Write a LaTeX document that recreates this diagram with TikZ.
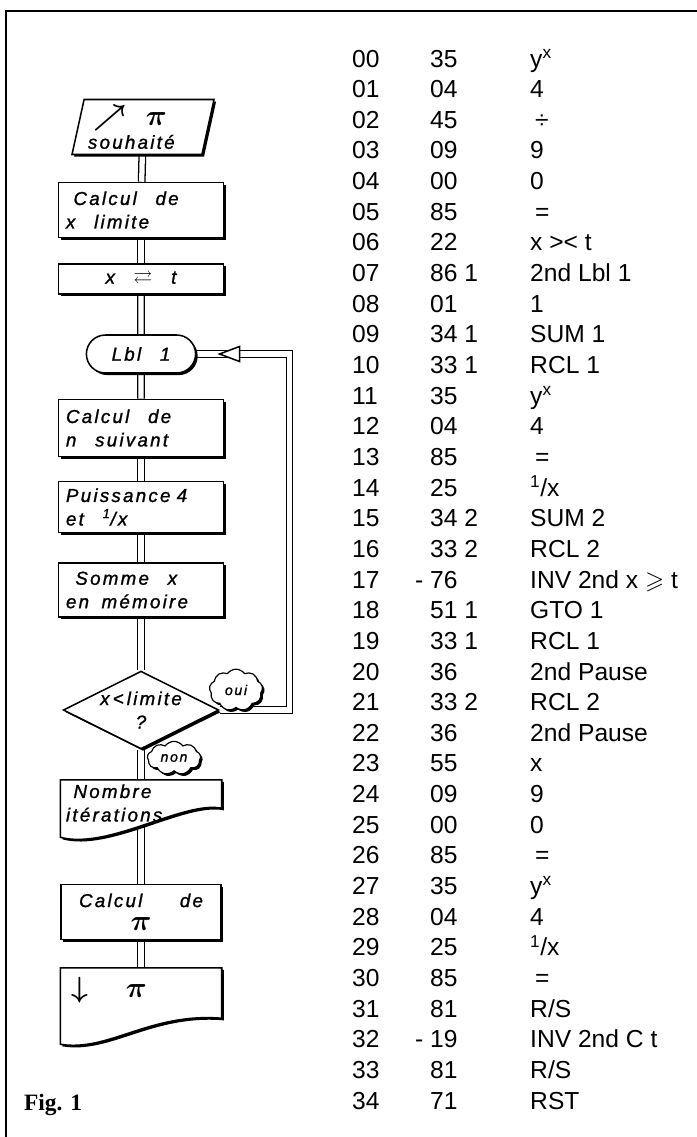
\documentclass[tikz,border=0pt]{standalone}
\usepackage{amsmath}
\usepackage{amssymb}
\usepackage{fontspec}
\setmainfont{Liberation Sans}
\newfontfamily\handfont[LetterSpace=12, FakeBold=1.2]{Liberation Sans}
\newfontfamily\figfont{Liberation Serif}
\usetikzlibrary{shapes.geometric, shapes.misc, shapes.symbols, shadows, backgrounds, calc}
\newcommand{\flowfont}{\handfont\itshape\fontsize{16}{20}\selectfont}
\newcommand{\smallflowfont}{\handfont\itshape\fontsize{12}{14}\selectfont}
\newcommand{\listfont}{\fontsize{21}{25}\selectfont}
\newcommand{\bigsym}[1]{{\fontsize{24}{24}\selectfont$\boldsymbol{#1}$}}
\tikzstyle{shadowed} = [drop shadow={shadow xshift=1.8pt, shadow yshift=-1.8pt, fill=black, opacity=1}]
\tikzstyle{proc} = [rectangle, draw, line width=1.3pt, fill=white, shadowed, minimum width=4.95cm, minimum height=1.65cm, text width=4.5cm, align=left, font=\flowfont]
\tikzstyle{wishbox} = [trapezium, trapezium left angle=76, trapezium right angle=104, trapezium stretches=true, draw, line width=1.3pt, fill=white, shadowed, minimum width=4.26cm, minimum height=1.65cm, text width=3.3cm, align=left, inner sep=1pt, font=\flowfont]
\tikzstyle{lblbox} = [rounded rectangle, draw, line width=1.3pt, fill=white, shadowed, minimum width=3.51cm, minimum height=1.14cm, font=\flowfont]
\tikzstyle{testbox} = [diamond, shape aspect=2, draw, line width=1.3pt, fill=white, shadowed, minimum width=4.65cm, minimum height=2.25cm, inner sep=0pt, align=center, font=\flowfont]
\tikzstyle{docbox} = [rectangle, minimum width=4.83cm, minimum height=1.38cm, text width=4.5cm, align=left, font=\flowfont]
\tikzstyle{docline} = [draw, line width=1.3pt, fill=white, shadowed]
\tikzstyle{bubble} = [cloud, cloud puffs=9, cloud puff arc=110, aspect=1.4, draw, line width=1pt, fill=white, shadowed, minimum width=1.6cm, minimum height=1.25cm, inner sep=0pt, font=\smallflowfont]
\tikzstyle{tri} = [isosceles triangle, isosceles triangle stretches, shape border rotate=180, draw, line width=1.3pt, fill=white, minimum height=0.6cm, minimum width=0.45cm, inner sep=0pt]
\tikzstyle{link} = [double, double distance=4.5pt, line width=1.1pt]
\tikzstyle{cell} = [anchor=base west, inner sep=0pt, font=\listfont]

\begin{document}
\begin{tikzpicture}[x=0.03cm, y=-0.03cm]
\useasboundingbox (0,0) rectangle (697,1137);

% Frame
\draw[line width=1.8pt] (6,1137) -- (6,11) -- (697,11);

% Flowchart
\node[wishbox] (wish) at (143,127) {\hspace{0.3em}\bigsym{\nearrow}\quad\bigsym{\pi}\\souhaité};
\node[proc] (climit) at (141,210) {\hspace{0.4em}Calcul\quad de\\x\quad limite};
\node[proc, minimum height=0.9cm, align=center] (swap) at (141,279) {x\quad$\boldsymbol{\rightleftarrows}$\quad t};
\node[lblbox] (lbl) at (141,354) {Lbl\quad 1};
\node[proc, minimum height=1.71cm] (nnext) at (141,428) {Calcul\quad de\\n\quad suivant};
\node[proc, minimum height=1.53cm] (pow) at (141,507) {Puissance\ 4\\et\quad \textsuperscript{1}/x};
\node[proc, minimum height=1.62cm] (summ) at (141,590) {\hspace{0.5em}Somme\quad x\\en\ \ mémoire};
\node[testbox] (test) at (141,710) {x\,<\,limite\\?};
\node[docbox] (iter) at (141,803) {\hspace{0.4em}Nombre\\itérations};
\node[proc, minimum width=4.8cm, align=center] (cpi) at (141,912) {Calcul\qquad de\\\bigsym{\pi}};
\node[docbox, minimum height=1.32cm] (out) at (141,990) {\hspace{0.3em}\bigsym{\downarrow}\qquad\bigsym{\pi}};

% Answers
\node[bubble] (oui) at (236,690) {oui};
\node[bubble, minimum height=1.0cm] (non) at (174,758) {non};

% Loop arrow head
\node[tri] (tri) at ($(lbl.east)+(38,0)$) {};

% Links
\begin{scope}[on background layer]
\draw[link] (wish) -- (climit);
\draw[link] (climit) -- (swap);
\draw[link] (swap) -- (lbl);
\draw[link] (lbl) -- (nnext);
\draw[link] (nnext) -- (pow);
\draw[link] (pow) -- (summ);
\draw[link] (summ) -- (test);
\draw[link] (test) -- (iter);
\draw[link] (iter.center) -- (cpi);
\draw[link] (cpi) -- (out.center);
\draw[link] (test.east) -- ++(70,0) |- (lbl.east);
% document outlines
\draw[docline] (iter.north west) -- (iter.north east) -- ($(iter.south east)+(0,-18)$)
  .. controls +(-38,-8) and +(48,13) .. ($(iter.south west)+(0,11)$) -- cycle;
\draw[docline] (out.north west) -- (out.north east) -- ($(out.south east)+(0,6)$)
  .. controls +(-72,-6) and +(48,8) .. ($(out.south west)+(0,32)$) -- cycle;
\end{scope}

% Program listing
\foreach \addr/\code/\keys [count=\i from 0] in {
  00/35/{y\textsuperscript{x}},
  01/04/4,
  02/45/{\hspace{.2em}÷},
  03/09/9,
  04/00/0,
  05/85/{\hspace{.2em}=},
  06/22/{x >< t},
  07/86 1/2nd Lbl 1,
  08/01/1,
  09/34 1/SUM 1,
  10/33 1/RCL 1,
  11/35/{y\textsuperscript{x}},
  12/04/4,
  13/85/{\hspace{.2em}=},
  14/25/{\textsuperscript{1}/x},
  15/34 2/SUM 2,
  16/33 2/RCL 2,
  17/{\llap{- }76}/{INV 2nd x $\geqslant$ t},
  18/51 1/GTO 1,
  19/33 1/RCL 1,
  20/36/2nd Pause,
  21/33 2/RCL 2,
  22/36/2nd Pause,
  23/55/x,
  24/09/9,
  25/00/0,
  26/85/{\hspace{.2em}=},
  27/35/{y\textsuperscript{x}},
  28/04/4,
  29/25/{\textsuperscript{1}/x},
  30/85/{\hspace{.2em}=},
  31/81/{R/S},
  32/{\llap{- }19}/INV 2nd C t,
  33/81/{R/S},
  34/71/RST}
{
  \node[cell] (a\i) at (352,{67+30.65*\i}) {\addr};
  \node[cell] (c\i) at (430,{67+30.65*\i}) {\code};
  \node[cell] (k\i) at (530,{67+30.65*\i}) {\keys};
}

\node[anchor=base west, font=\figfont\bfseries\fontsize{20}{24}\selectfont] (fig) at (20,1110) {Fig. 1};

\end{tikzpicture}
\end{document}
